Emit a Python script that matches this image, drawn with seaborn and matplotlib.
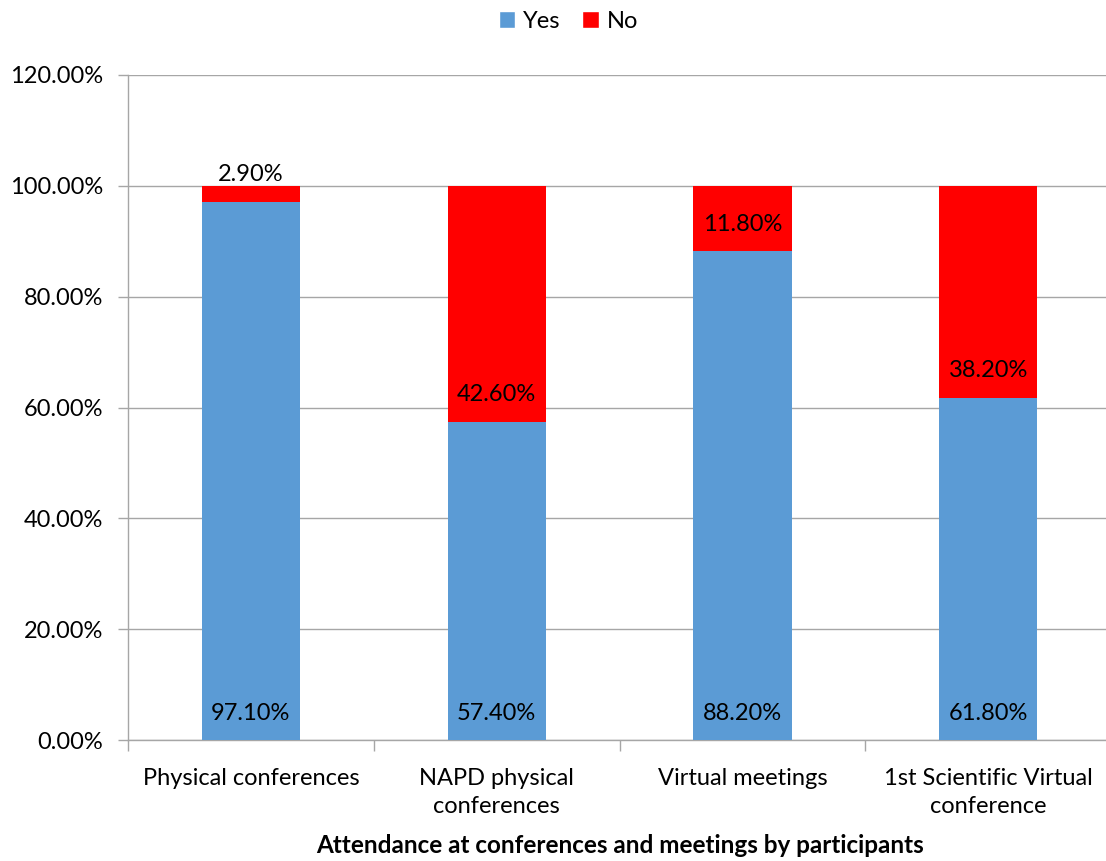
import matplotlib
matplotlib.use("Agg")
import matplotlib.pyplot as plt
import seaborn as sns
import numpy as np
import pandas as pd
from matplotlib.patches import Patch

categories = ["Physical conferences", "NAPD physical\nconferences", "Virtual meetings", "1st Scientific Virtual\nconference"]
yes_vals = [97.1, 57.4, 88.2, 61.8]
no_vals = [2.9, 42.6, 11.8, 38.2]
yticks = [0, 20, 40, 60, 80, 100, 120]
xlabel = "Attendance at conferences and meetings by participants"

sns.set_theme(style="white")
plt.rcParams['font.family'] = ['Lato', 'DejaVu Sans']
plt.rcParams['text.color'] = '#000000'

blue = "#5B9BD5"
red = "#FF0000"
fs = 17

fig = plt.figure(figsize=(11.06, 8.61), dpi=100)
ax = fig.add_axes([0.1157, 0.1405, 0.889, 0.7724])

df = pd.DataFrame({"cat": categories, "yes": yes_vals, "no": no_vals})
sns.barplot(data=df, x="cat", y="yes", color=blue, width=0.4, ax=ax, saturation=1,
            zorder=3, linewidth=0, edgecolor="none")
ax.bar(np.arange(len(categories)), no_vals, bottom=yes_vals, width=0.4, color=red,
       zorder=3, linewidth=0)

ax.set_xlim(-0.5, len(categories) - 0.5)
ax.set_ylim(0, 120)
ax.set_yticks(yticks)
ax.set_yticklabels([f"{v:.2f}%" for v in yticks], fontsize=fs, color="#000000")
ax.yaxis.grid(True, color="#A6A6A6", linewidth=1, zorder=0)
ax.set_axisbelow(True)

ax.set_xticks(np.arange(len(categories)))
ax.set_xticklabels(categories, fontsize=fs, color="#000000", linespacing=1.45)
ax.tick_params(axis="x", length=0, pad=20)
ax.set_xticks(np.arange(-0.5, len(categories) + 0.5, 1), minor=True)
ax.tick_params(axis="x", which="minor", length=8, color="#A6A6A6", width=1, bottom=True)
ax.tick_params(axis="y", length=7, color="#A6A6A6", width=1, left=True, pad=11)

for s in ["top", "right"]:
    ax.spines[s].set_visible(False)
for s in ["left", "bottom"]:
    ax.spines[s].set_color("#A6A6A6")
    ax.spines[s].set_linewidth(1)

ax.set_xlabel(xlabel, fontsize=17.5, fontweight="bold", labelpad=12, color="#000000")
ax.set_ylabel("")

for i, (y, n) in enumerate(zip(yes_vals, no_vals)):
    ax.annotate(f"{y:.2f}%", (i, 0), xytext=(0, 27), textcoords="offset pixels",
                ha="center", va="center", fontsize=fs, zorder=5, color="#000000")
    ax.annotate(f"{n:.2f}%", (i, y), xytext=(0, 27), textcoords="offset pixels",
                ha="center", va="center", fontsize=fs, zorder=5, color="#000000")

handles = [Patch(facecolor=blue, label="Yes"), Patch(facecolor=red, label="No")]
fig.legend(handles=handles, loc="center", bbox_to_anchor=(0.514, 0.975), ncol=2,
           frameon=False, fontsize=fs, handlelength=0.7, handleheight=0.7,
           handletextpad=0.35, columnspacing=0.9, labelcolor="#000000")

fig.savefig("out.png", dpi=100)
